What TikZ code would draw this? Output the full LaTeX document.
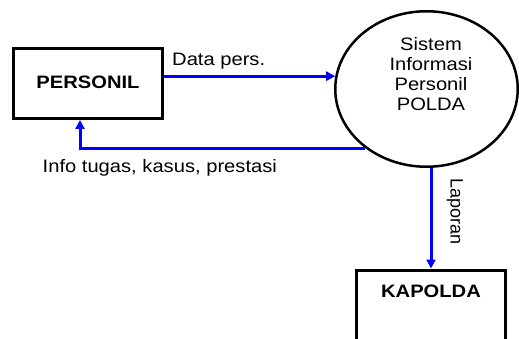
\documentclass[tikz,border=0pt]{standalone}
\usepackage{fontspec}
\setmainfont{Liberation Sans}[FakeStretch=1.12]
\newfontfamily\plainfont{Liberation Sans}
\usetikzlibrary{shapes.geometric,arrows.meta}
\begin{document}
\begin{tikzpicture}[x=1pt,y=1pt,
  entity/.style={draw=black, line width=3pt, rectangle, inner sep=0pt, fill=white},
  proc/.style={draw=black, line width=2.5pt, ellipse, inner sep=0pt, fill=white},
  flow/.style={draw={rgb,255:red,0;green,0;blue,255}, line width=3pt, -{Triangle[length=9pt,width=9pt]}},
  lbl/.style={inner sep=0pt, font=\fontsize{18}{20}\selectfont},
  bold/.style={inner sep=0pt, font=\fontsize{18}{20}\selectfont\bfseries}]
\useasboundingbox (0,0) rectangle (519,-339);
\clip (0,0) rectangle (519,-339);
\fill[white] (0,0) rectangle (519,-339);
% nodes
\node[entity, minimum width=149pt, minimum height=70pt, font=\fontsize{18}{20}\selectfont\bfseries] (personil) at (88,-83.5) {\raisebox{2pt}{PERSONIL}};
\node[proc, minimum width=182.5pt, minimum height=155.5pt,
  label={[lbl, align=center, anchor=center, xshift=4.5pt, yshift=15pt]center:Sistem\\Informasi\\Personil\\POLDA}] (circ) at (426.5,-89) {};
\node[entity, minimum width=149pt, minimum height=90pt, anchor=north,
  label={[bold, anchor=center, yshift=-22.5pt]north:KAPOLDA}] (kapolda) at (431,-268.5) {};
% connectors
\draw[flow] (personil.east |- circ.172.5) -- (circ.172.5);
\draw[flow] (circ.224) -| ([xshift=-8pt]personil.south);
\draw[flow] (circ.south -| kapolda.north) -- (kapolda.north);
% labels
\node[lbl, anchor=base west] (datalbl) at (172,-65.7) {Data pers.};
\node[lbl, anchor=base west] (infolbl) at (42.5,-172.3) {Info tugas, kasus, prestasi};
\node[lbl, font=\fontsize{18}{20}\plainfont, rotate=-90, anchor=west] (laplbl) at (455,-178) {Laporan};
\end{tikzpicture}
\end{document}
